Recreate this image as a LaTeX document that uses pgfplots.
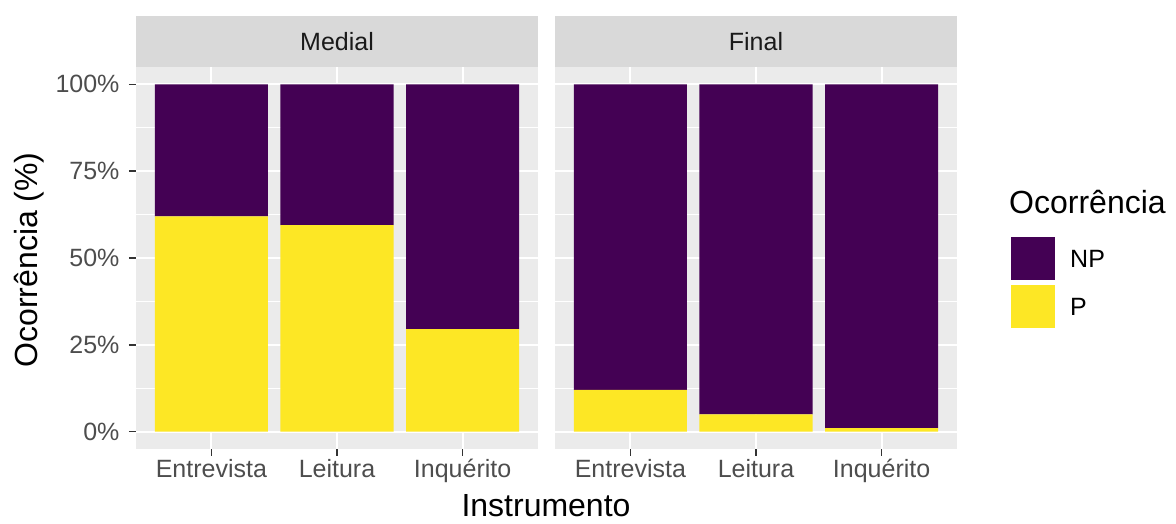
\documentclass[border=0pt]{standalone}
\usepackage{fontspec}
\setmainfont{Liberation Sans}
\usepackage{pgfplots}
\pgfplotsset{compat=1.18}
\definecolor{vpurple}{HTML}{440154}
\definecolor{vyellow}{HTML}{FDE725}
\definecolor{panelgray}{HTML}{EBEBEB}
\definecolor{stripgray}{HTML}{D9D9D9}
\definecolor{ticktext}{HTML}{4D4D4D}
\definecolor{tickmark}{HTML}{333333}
\definecolor{striptext}{HTML}{1A1A1A}
\pgfplotsset{
 facet/.style={
  scale only axis, width=402pt, height=382pt,
  anchor=south west,
  xmin=0.4, xmax=3.6, ymin=-5, ymax=105,
  axis background/.style={fill=panelgray},
  axis line style={draw=none},
  xtick={1,2,3},
  xticklabels={Entrevista,Leitura,Inquérito},
  ytick={0,25,50,75,100},
  minor ytick={12.5,37.5,62.5,87.5},
  grid=both,
  major grid style={white, line width=2pt},
  minor grid style={white, line width=1pt},
  tick align=outside,
  tick pos=left,
  major tick length=7pt,
  minor tick length=0pt,
  major tick style={tickmark, line width=1.5pt},
  minor tick style={draw=none},
  ticklabel style={font=\fontsize{25}{30}\selectfont, text=ticktext},
  yticklabel style={xshift=-6pt},
  ybar stacked, bar width=0.9, bar shift=0pt,
 }
}
\begin{document}
\begin{tikzpicture}
\path[use as bounding box] (0,0) rectangle (1176pt,524pt);
% Medial
\begin{axis}[facet, at={(136pt,75pt)},
  yticklabels={0\%,25\%,50\%,75\%,100\%}]
\addplot[fill=vyellow, draw=none] coordinates {(1,62) (2,59.5) (3,29.5)};
\addplot[fill=vpurple, draw=none] coordinates {(1,38) (2,40.5) (3,70.5)};
\end{axis}
% Final
\begin{axis}[facet, at={(555pt,75pt)},
  yticklabels={}, ytick style={draw=none}]
\addplot[fill=vyellow, draw=none] coordinates {(1,12) (2,5) (3,1)};
\addplot[fill=vpurple, draw=none] coordinates {(1,88) (2,95) (3,99)};
\end{axis}
% strips
\fill[stripgray] (136pt,457pt) rectangle (538pt,508pt);
\fill[stripgray] (555pt,457pt) rectangle (957pt,508pt);
\node[text=striptext, font=\fontsize{25}{30}\selectfont] at (337pt,482.5pt) {Medial};
\node[text=striptext, font=\fontsize{25}{30}\selectfont] at (756pt,482.5pt) {Final};
% axis titles
\node[font=\fontsize{32}{38}\selectfont, anchor=base, inner sep=0pt] at (546pt,7pt) {Instrumento};
\node[font=\fontsize{32}{38}\selectfont, rotate=90] at (29pt,264pt) {Ocorrência (\%)};
% legend
\node[font=\fontsize{32}{38}\selectfont, anchor=base west, inner sep=0pt] at (1009pt,310pt) {Ocorrência};
\fill[vpurple] (1011pt,244pt) rectangle (1055pt,287pt);
\fill[vyellow] (1011pt,196pt) rectangle (1055pt,239pt);
\node[font=\fontsize{25}{30}\selectfont, anchor=west, inner sep=0pt] at (1070pt,265.5pt) {NP};
\node[font=\fontsize{25}{30}\selectfont, anchor=west, inner sep=0pt] at (1070pt,217.5pt) {P};
\end{tikzpicture}
\end{document}
